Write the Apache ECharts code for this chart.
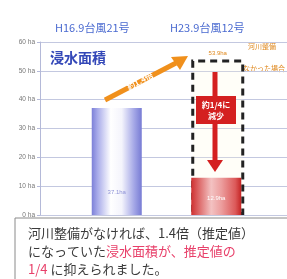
<!DOCTYPE html>
<html>
<head>
<meta charset="utf-8">
<script src="https://cdn.jsdelivr.net/npm/echarts@6/dist/echarts.min.js"></script>
<style>
  html, body { margin: 0; padding: 0; background: #ffffff; }
  #main { width: 287px; height: 279px; }
</style>
</head>
<body>
<div id="main"></div>
<script>
// 台風ごとの浸水面積 (ha)
var typhoons = ['H16.9台風21号', 'H23.9台風12号']
var actualArea = [37.1, 12.9]
var estimatedArea = ['-', 53.9] // 河川整備がなかった場合の推定値
var yTicks = { min: 0, max: 60, interval: 10 }

var myChart = echarts.init(document.getElementById('main'))
var jp = '"Noto Sans CJK JP", sans-serif'

var option = {
  backgroundColor: '#ffffff',
  animation: false,
  grid: [
    { left: 40, right: 0, top: 42, bottom: 64 },
    { left: 67, right: 21, top: 42, bottom: 64 }
  ],
  xAxis: [
    { type: 'category', gridIndex: 0, data: [''], show: false },
    { type: 'category', gridIndex: 1, data: typhoons, show: false }
  ],
  yAxis: [
    {
      type: 'value', gridIndex: 0,
      min: yTicks.min, max: yTicks.max, interval: yTicks.interval,
      axisLine: { show: true, lineStyle: { color: '#b4b9d8' } },
      axisTick: { show: true, length: 3, lineStyle: { color: '#b4b9d8' } },
      axisLabel: { formatter: '{value} ha', fontSize: 6.5, color: '#777', margin: 5 },
      splitLine: { lineStyle: { color: '#c3c8e0', width: 1 } }
    },
    {
      type: 'value', gridIndex: 1, show: false,
      min: yTicks.min, max: yTicks.max, interval: yTicks.interval,
      splitLine: { show: false }
    }
  ],
  series: [
    {
      // 推定値の点線枠
      type: 'bar', xAxisIndex: 1, yAxisIndex: 1,
      data: estimatedArea,
      barWidth: 53,
      barGap: '-100%',
      z: 1,
      itemStyle: {
        color: 'rgba(255,250,220,0.2)',
        borderColor: '#222',
        borderWidth: 3,
        borderType: [7, 5]
      },
      label: {
        show: true, position: 'top', distance: 3,
        formatter: '{c}ha', fontSize: 6, color: '#e08a20'
      }
    },
    {
      type: 'bar', xAxisIndex: 1, yAxisIndex: 1,
      data: [
        {
          value: actualArea[0],
          label: { distance: 20, color: '#8e92d6' },
          itemStyle: {
            color: new echarts.graphic.LinearGradient(0, 0, 1, 0, [
              { offset: 0, color: '#7c80d8' },
              { offset: 0.12, color: '#a9acea' },
              { offset: 0.38, color: '#ffffff' },
              { offset: 0.6, color: '#f4f4fc' },
              { offset: 0.85, color: '#a3a6e6' },
              { offset: 1, color: '#777bd4' }
            ])
          }
        },
        {
          value: actualArea[1],
          label: { distance: 14, color: '#fff' },
          itemStyle: {
            color: new echarts.graphic.LinearGradient(0, 0, 1, 0, [
              { offset: 0, color: '#cf3030' },
              { offset: 0.4, color: '#f3c2c2' },
              { offset: 0.6, color: '#ec9e9e' },
              { offset: 0.88, color: '#dc5a5a' },
              { offset: 1, color: '#c42424' }
            ])
          }
        }
      ],
      barWidth: 50,
      z: 3,
      label: {
        show: true, position: 'insideBottom',
        formatter: '{c}ha', fontSize: 6
      }
    }
  ],
  graphic: [
    {
      type: 'text', left: 55, top: 22,
      style: { text: typhoons[0], fill: '#4a6ad0', font: '11px ' + jp }
    },
    {
      type: 'text', left: 170, top: 22,
      style: { text: typhoons[1], fill: '#4a6ad0', font: '11px ' + jp }
    },
    {
      type: 'text', left: 50, top: 51,
      style: { text: '浸水面積', fill: '#3448b8', font: 'bold 14px ' + jp }
    },
    // 約1.4倍の矢印
    {
      type: 'line', z: 10,
      shape: { x1: 105, y1: 100, x2: 176, y2: 63 },
      style: { stroke: '#f0901c', lineWidth: 5 }
    },
    {
      type: 'polygon', z: 10,
      shape: { points: [[188, 56], [171, 57], [180, 70]] },
      style: { fill: '#f0901c' }
    },
    {
      type: 'text', z: 11, x: 140, y: 81, rotation: 0.48,
      style: {
        text: '約1.4倍', fill: '#fff', font: 'bold 8px ' + jp,
        align: 'center', verticalAlign: 'middle'
      }
    },
    // 約1/4に減少の矢印
    {
      type: 'line', z: 10,
      shape: { x1: 215, y1: 72, x2: 215, y2: 162 },
      style: { stroke: '#d42020', lineWidth: 5 }
    },
    {
      type: 'polygon', z: 10,
      shape: { points: [[207, 160], [223, 160], [215, 172]] },
      style: { fill: '#d42020' }
    },
    {
      type: 'rect', z: 11,
      shape: { x: 196, y: 96, width: 40, height: 28 },
      style: { fill: '#d42020' }
    },
    {
      type: 'text', z: 12, x: 216, y: 110,
      style: {
        text: '約1/4に\n減少', fill: '#fff', font: 'bold 8px ' + jp,
        lineHeight: 11, align: 'center', verticalAlign: 'middle'
      }
    },
    {
      type: 'text', left: 248, top: 43,
      style: { text: '河川整備', fill: '#e08a20', font: '7px ' + jp }
    },
    {
      type: 'text', left: 243, top: 65,
      style: { text: 'なかった場合', fill: '#e08a20', font: '7px ' + jp }
    },
    // 説明文
    {
      type: 'rect', z: 20,
      shape: { x: 15, y: 218, width: 290, height: 70 },
      style: { fill: '#ffffff', stroke: '#8a8a8a', lineWidth: 1 }
    },
    {
      type: 'text', z: 21, left: 28, top: 227,
      style: {
        text: '{a|河川整備がなければ、1.4倍（推定値）}\n{a|になっていた}{r|浸水面積が、推定値の}\n{r|1/4}{a| に抑えられました。}',
        rich: {
          a: { fill: '#3a3a3a', font: '13px ' + jp, lineHeight: 18 },
          r: { fill: '#e8406a', font: '13px ' + jp, lineHeight: 18 }
        }
      }
    }
  ]
}
myChart.setOption(option)
</script>
</body>
</html>
